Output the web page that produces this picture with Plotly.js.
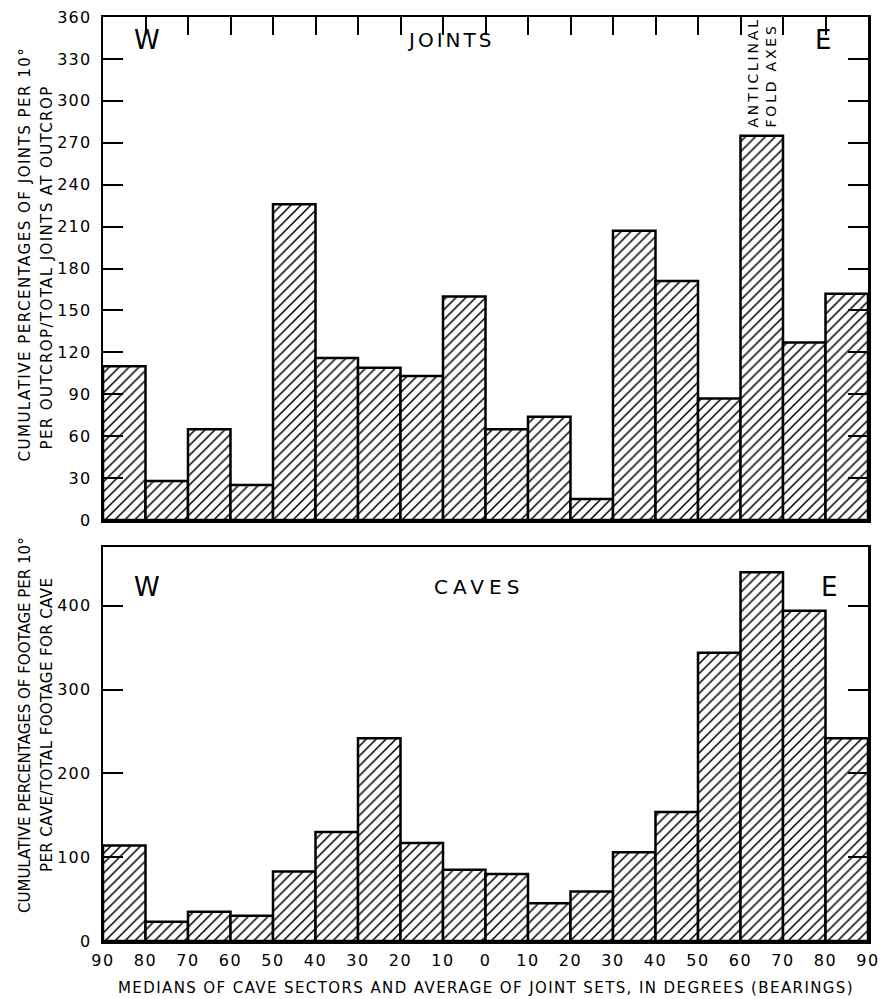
<!DOCTYPE html>
<html>
<head>
<meta charset="utf-8">
<script src="https://cdn.plot.ly/plotly-3.0.1.min.js"></script>
<style>
  html, body { margin: 0; padding: 0; background: #fff; }
  #chart { width: 881px; height: 999px; }
  #chart .ytick text, #chart .y2tick text { letter-spacing: 1.2px; }
  #chart .x2tick text { letter-spacing: 1.5px; }
</style>
</head>
<body>
<div id="chart"></div>
<script>
// 10-degree bearing sectors from W 90 through 0 to E 90
const sectors = [
  "W 90-80", "W 80-70", "W 70-60", "W 60-50", "W 50-40", "W 40-30", "W 30-20", "W 20-10", "W 10-0",
  "E 0-10", "E 10-20", "E 20-30", "E 30-40", "E 40-50", "E 50-60", "E 60-70", "E 70-80", "E 80-90"
];
// Cumulative percentages of joints per 10° per outcrop / total joints at outcrop
const joints = [110, 28, 65, 25, 226, 116, 109, 103, 160, 65, 74, 15, 207, 171, 87, 275, 127, 162];
// Cumulative percentages of footage per 10° per cave / total footage for cave
const caves = [114, 23, 35, 30, 83, 130, 242, 117, 85, 80, 45, 59, 106, 154, 344, 440, 394, 242];
// Bearing tick labels at sector boundaries
const bearingTicks = ["90", "80", "70", "60", "50", "40", "30", "20", "10", "0", "10", "20", "30", "40", "50", "60", "70", "80", "90"];
const jointTicks = [0, 30, 60, 90, 120, 150, 180, 210, 240, 270, 300, 330, 360];
const caveTicks = [0, 100, 200, 300, 400];

const xs = sectors.map((_, i) => i);
const bounds = bearingTicks.map((_, i) => i - 0.5);
const FONT = "DejaVu Sans, Arial, sans-serif";
const sp = (t, px) => '<span style="letter-spacing:' + px + 'px">' + t + '</span>';

const hatch = {
  color: "white",
  line: { color: "black", width: 2.5 },
  pattern: { shape: "/", fgcolor: "black", bgcolor: "white", size: 7, solidity: 0.22 }
};

const traces = [
  { type: "bar", x: xs, y: joints, width: 1, xaxis: "x", yaxis: "y", marker: hatch,
    text: sectors, hoverinfo: "text+y", textposition: "none" },
  { type: "bar", x: xs, y: caves, width: 1, xaxis: "x2", yaxis: "y2", marker: hatch,
    text: sectors, hoverinfo: "text+y", textposition: "none" }
];

const xRange = [-0.5, sectors.length - 0.5];
const frame = { showline: true, linecolor: "black", linewidth: 2.5, mirror: true, showgrid: false, zeroline: false };

const yTop0 = 1, yTopBottom = 0.4556, yBotTop = 0.4264;
const tickFont = { family: FONT, size: 16, color: "black" };

function label(text, xref, x, yref, y, size, extra) {
  return Object.assign({ text: text, xref: xref, x: x, yref: yref, y: y, xanchor: "center", yanchor: "middle",
    showarrow: false, font: { family: FONT, size: size, color: "black" } }, extra || {});
}

const layout = {
  width: 881, height: 999,
  margin: { l: 103, r: 13, t: 17, b: 58 },
  paper_bgcolor: "white", plot_bgcolor: "white",
  showlegend: false, bargap: 0,
  font: { family: FONT, color: "black", size: 15 },
  xaxis: Object.assign({}, frame, {
    domain: [0, 1], anchor: "y", range: xRange, side: "top",
    tickmode: "array", tickvals: bounds, ticks: "inside", ticklen: 18, tickwidth: 2,
    tickcolor: "black", showticklabels: false
  }),
  yaxis: Object.assign({}, frame, {
    domain: [yTopBottom, yTop0], anchor: "x", range: [0, 360],
    tickmode: "array", tickvals: jointTicks, ticks: "inside", ticklen: 20, tickwidth: 2,
    tickcolor: "black", mirror: "ticks", ticklabelstandoff: 6, tickfont: tickFont
  }),
  xaxis2: Object.assign({}, frame, {
    domain: [0, 1], anchor: "y2", range: xRange, side: "bottom",
    tickmode: "array", tickvals: bounds, ticktext: bearingTicks, ticks: "",
    ticklabelstandoff: 3, tickfont: tickFont
  }),
  xaxis3: {
    overlaying: "x2", anchor: "y2", range: xRange, side: "top", matches: "x2",
    tickmode: "array", tickvals: bounds, ticks: "inside", ticklen: 18, tickwidth: 2,
    tickcolor: "black", showticklabels: false, showgrid: false, zeroline: false, showline: false
  },
  yaxis2: Object.assign({}, frame, {
    domain: [0, yBotTop], anchor: "x2", range: [0, 470],
    tickmode: "array", tickvals: caveTicks, ticks: "inside", ticklen: 20, tickwidth: 2,
    tickcolor: "black", mirror: "ticks", ticklabelstandoff: 6, tickfont: tickFont
  }),
  annotations: [
    // Y titles, top panel
    label(sp("CUMULATIVE PERCENTAGES OF JOINTS PER 10°", 1.5), "paper", 0, "y domain", 0.5, 15,
      { textangle: -90, xshift: -78, yshift: 14 }),
    label(sp("PER OUTCROP/TOTAL JOINTS AT OUTCROP", 1.4), "paper", 0, "y domain", 0.5, 15,
      { textangle: -90, xshift: -56, yshift: 1 }),
    // Y titles, bottom panel
    label(sp("CUMULATIVE PERCENTAGES OF FOOTAGE PER 10°", 0), "paper", 0, "y2 domain", 0.5, 15,
      { textangle: -90, xshift: -78, yshift: 19 }),
    label(sp("PER CAVE/TOTAL FOOTAGE FOR CAVE", 0.4), "paper", 0, "y2 domain", 0.5, 15,
      { textangle: -90, xshift: -56, yshift: 19 }),
    // X title
    label(sp("MEDIANS OF CAVE SECTORS AND AVERAGE OF JOINT SETS, IN DEGREES (BEARINGS)", 1.4),
      "paper", 0.5, "paper", 0, 15, { yshift: -47 }),
    // Panel labels, top
    label("W", "x domain", 0.0575, "y domain", 0.954, 26),
    label(sp("JOINTS", 3), "x domain", 0.4536, "y domain", 0.954, 20),
    label("E", "x domain", 0.941, "y domain", 0.954, 26),
    label(sp("ANTICLINAL", 2.8) + "<br>" + sp("FOLD AXES", 2.8), "x", 15, "y", joints[15], 14,
      { textangle: -90, align: "left", yanchor: "bottom", yshift: 6 }),
    // Panel labels, bottom
    label("W", "x2 domain", 0.0575, "y2 domain", 0.898, 26),
    label(sp("CAVES", 5), "x2 domain", 0.4915, "y2 domain", 0.898, 20),
    label("E", "x2 domain", 0.949, "y2 domain", 0.898, 26)
  ]
};

Plotly.newPlot("chart", traces, layout, { staticPlot: true, displayModeBar: false });
</script>
</body>
</html>
